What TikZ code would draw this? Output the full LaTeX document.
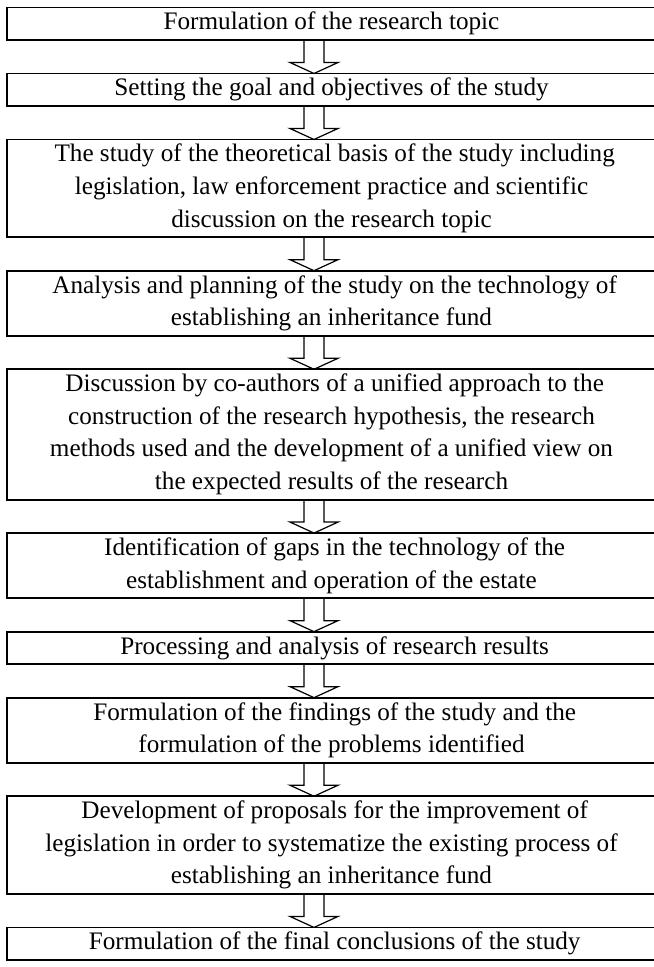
\documentclass[tikz,border=0pt]{standalone}
\usepackage{fontspec}
\setmainfont{Liberation Serif}
\usetikzlibrary{positioning,calc}

\tikzset{
  stepbox/.style={draw, line width=1pt, outer sep=0pt, inner sep=0pt,
    minimum width=350.5pt, minimum height=#1*17.6pt, align=center,
    font=\fontsize{13.6}{17.6}\selectfont},
  stepbox/.default=1,
  blockarrow/.style={draw, line width=0.65pt, line join=miter}
}

\begin{document}
\begin{tikzpicture}[x=0.54pt, y=-0.54pt, node distance=18.04pt]
	\useasboundingbox (0,0) rectangle (653,967);
	\coordinate (ax) at (314,0);

	\node[stepbox, anchor=north] (b1) at (331.5,7.5) {Formulation of the research topic};
	\node[stepbox, below=of b1] (b2) {Setting the goal and objectives of the study};
	\node[stepbox=3, below=of b2] (b3) {\ The study of the theoretical basis of the study including\\
		legislation, law enforcement practice and scientific\\
		discussion on the research topic};
	\node[stepbox=2, below=of b3] (b4) {\ Analysis and planning of the study on the technology of\\
		establishing an inheritance fund};
	\node[stepbox=4, below=of b4] (b5) {\ Discussion by co-authors of a unified approach to the\\
		construction of the research hypothesis, the research\\
		methods used and the development of a unified view on\\
		the expected results of the research};
	\node[stepbox=2, below=of b5] (b6) {\ Identification of gaps in the technology of the\\
		establishment and operation of the estate};
	\node[stepbox, below=of b6] (b7) {\ Processing and analysis of research results};
	\node[stepbox=2, below=of b7] (b8) {\ Formulation of the findings of the study and the\\
		formulation of the problems identified};
	\node[stepbox=3, below=of b8] (b9) {\ Development of proposals for the improvement of\\
		legislation in order to systematize the existing process of\\
		establishing an inheritance fund};
	\node[stepbox, below=of b9] (b10) {\ Formulation of the final conclusions of the study};

	% hollow block arrows between the steps
	\foreach \a/\b in {b1/b2, b2/b3, b3/b4, b4/b5, b5/b6, b6/b7, b7/b8, b8/b9, b9/b10}
		\draw[blockarrow] ($(\a.south -| ax)+(-10,0)$) -- ($(\b.north -| ax)+(-10,-11)$)
			-- ($(\b.north -| ax)+(-24,-11)$) -- (\b.north -| ax)
			-- ($(\b.north -| ax)+(24,-11)$) -- ($(\b.north -| ax)+(10,-11)$)
			-- ($(\a.south -| ax)+(10,0)$);
\end{tikzpicture}
\end{document}
